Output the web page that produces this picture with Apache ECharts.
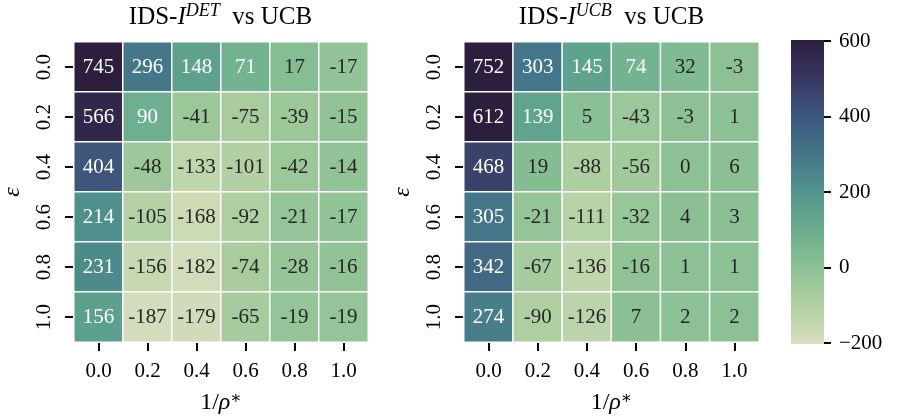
<!DOCTYPE html>
<html><head><meta charset="utf-8">
<script src="https://cdn.jsdelivr.net/npm/echarts@6/dist/echarts.min.js"></script>
<style>html,body{margin:0;padding:0;background:#fff}#c{width:900px;height:420px}</style>
</head><body><div id="c"></div>
<script>
// ---- data ----
const rhoLabels = ['0.0','0.2','0.4','0.6','0.8','1.0'];   // 1/rho*
const epsLabels = ['0.0','0.2','0.4','0.6','0.8','1.0'];   // epsilon
const detValues = [
  [745, 296, 148, 71, 17, -17],
  [566, 90, -41, -75, -39, -15],
  [404, -48, -133, -101, -42, -14],
  [214, -105, -168, -92, -21, -17],
  [231, -156, -182, -74, -28, -16],
  [156, -187, -179, -65, -19, -19]
];
const ucbValues = [
  [752, 303, 145, 74, 32, -3],
  [612, 139, 5, -43, -3, 1],
  [468, 19, -88, -56, 0, 6],
  [305, -21, -111, -32, 4, 3],
  [342, -67, -136, -16, 1, 1],
  [274, -90, -126, 7, 2, 2]
];
const colorbarMin = -200, colorbarMax = 600, colorbarStep = 200;

// ---- colormap (seaborn cubehelix start=.5, rot=-.75) ----
function cubehelix(t) {
  t = Math.max(0, Math.min(1, t));
  const x = 0.85 + (0.15 - 0.85) * t;
  const start = 0.5, rot = -0.75, hue = 0.8;
  const a = hue * x * (1 - x) / 2;
  const phi = 2 * Math.PI * (start / 3 + rot * x);
  const c = Math.cos(phi), s = Math.sin(phi);
  return [
    x + a * (-0.14861 * c + 1.78277 * s),
    x + a * (-0.29227 * c - 0.90649 * s),
    x + a * (1.97294 * c)
  ].map(v => Math.max(0, Math.min(1, v)));
}
function toHex(rgb) { return '#' + rgb.map(v => Math.round(v * 255).toString(16).padStart(2, '0')).join(''); }
const stops = [];
for (let k = 0; k <= 40; k++) stops.push(toHex(cubehelix(k / 40)));
function textColor(v) {
  const rgb = cubehelix((v - colorbarMin) / (colorbarMax - colorbarMin))
    .map(c => c <= 0.03928 ? c / 12.92 : Math.pow((c + 0.055) / 1.055, 2.4));
  const lum = 0.2126 * rgb[0] + 0.7152 * rgb[1] + 0.0722 * rgb[2];
  return lum > 0.408 ? '#262626' : '#ffffff';
}
function makeData(vals) {
  const d = [];
  vals.forEach((row, i) => row.forEach((v, j) => d.push({ value: [j, i, v], label: { color: textColor(v) } })));
  return d;
}

const FONT = '"Liberation Serif", "DejaVu Serif", serif';
const nameRich = {
  n: { fontFamily: FONT, fontSize: 24, color: '#000', lineHeight: 26 },
  i: { fontFamily: FONT, fontSize: 24, fontStyle: 'italic', color: '#000', lineHeight: 26 },
  s: { fontFamily: FONT, fontSize: 17, color: '#000', verticalAlign: 'top', lineHeight: 14 }
};
const CB = { left: 791, top: 41, width: 33, height: 302 };
const gridsPos = [{ left: 73, top: 42, width: 295, height: 300 }, { left: 464, top: 42, width: 295, height: 300 }];

function xAx(gi) {
  return {
    type: 'category', gridIndex: gi, data: rhoLabels,
    axisLine: { show: false }, splitLine: { show: false },
    axisTick: { show: true, alignWithLabel: true, length: 9, lineStyle: { color: '#000', width: 2 } },
    axisLabel: { fontFamily: FONT, fontSize: 21, color: '#000', margin: 19 },
    name: '{n|1/}{i|ρ}{s|∗}', nameLocation: 'middle', nameGap: 48,
    nameTextStyle: { rich: nameRich }
  };
}
function yAx(gi) {
  return {
    type: 'category', gridIndex: gi, data: epsLabels, inverse: true,
    axisLine: { show: false }, splitLine: { show: false },
    axisTick: { show: true, alignWithLabel: true, length: 9, lineStyle: { color: '#000', width: 2 } },
    axisLabel: { fontFamily: FONT, fontSize: 21, color: '#000', rotate: 90, margin: 19 },
    name: 'ε', nameLocation: 'middle', nameGap: 49, nameRotate: 90,
    nameTextStyle: { fontFamily: FONT, fontSize: 24, fontStyle: 'italic', color: '#000' }
  };
}
function series(gi, vals) {
  return {
    type: 'heatmap', xAxisIndex: gi, yAxisIndex: gi, data: makeData(vals),
    itemStyle: { borderColor: '#fff', borderWidth: 1.5 },
    label: { show: true, fontFamily: FONT, fontSize: 21, formatter: p => String(p.value[2]) },
    emphasis: { disabled: true }
  };
}
function titleText(id, x, sup) {
  return {
    type: 'text', id: id, x: x, y: 17, z: 100,
    style: {
      text: '{n|IDS-}{i|I}{s|' + sup + '}{n|  vs UCB}',
      align: 'center', verticalAlign: 'middle',
      fontFamily: FONT, fontSize: 25, fontWeight: 'normal', fill: '#000',
      rich: {
        n: { fontFamily: FONT, fontSize: 25, fontWeight: 'normal', fill: '#000', lineHeight: 30 },
        i: { fontFamily: FONT, fontSize: 25, fontWeight: 'normal', fontStyle: 'italic', fill: '#000', lineHeight: 30 },
        s: { fontFamily: FONT, fontSize: 18, fontWeight: 'normal', fontStyle: 'italic', fill: '#000', lineHeight: 18, verticalAlign: 'top' }
      }
    }
  };
}

const chart = echarts.init(document.getElementById('c'), null, { renderer: 'canvas' });
chart.setOption({
  animation: false,
  backgroundColor: '#fff',
  grid: [gridsPos[0], gridsPos[1], CB],
  xAxis: [xAx(0), xAx(1), { type: 'category', data: [''], gridIndex: 2, show: false }],
  yAxis: [yAx(0), yAx(1), {
    type: 'value', gridIndex: 2, position: 'right', min: colorbarMin, max: colorbarMax, interval: colorbarStep,
    axisLine: { show: false, onZero: false }, splitLine: { show: false },
    axisTick: { show: true, length: 7, lineStyle: { color: '#000', width: 2 } },
    axisLabel: { fontFamily: FONT, fontSize: 21, color: '#000', margin: 15, formatter: v => String(v).replace('-', '\u2212') }
  }],
  visualMap: {
    type: 'continuous', show: false, min: colorbarMin, max: colorbarMax, seriesIndex: [0, 1], dimension: 2,
    inRange: { color: stops }, outOfRange: { color: stops }
  },
  graphic: { elements: [
    titleText('t1', 220.5, 'DET'), titleText('t2', 611.5, 'UCB'),
    { type: 'rect', id: 'cbar', z: 50, shape: { x: CB.left, y: CB.top - 1, width: CB.width, height: CB.height + 2 },
      style: { fill: { type: 'linear', x: 0, y: 1, x2: 0, y2: 0,
        colorStops: stops.map((c, k) => ({ offset: k / (stops.length - 1), color: c })) } } }
  ] },
  series: [series(0, detValues), series(1, ucbValues)]
});
</script>
</body></html>
